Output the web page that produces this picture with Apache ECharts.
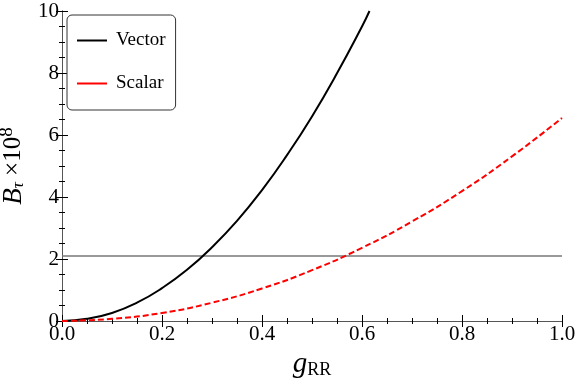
<!DOCTYPE html>
<html>
<head>
<meta charset="utf-8">
<script src="https://cdn.jsdelivr.net/npm/echarts@6/dist/echarts.min.js"></script>
</head>
<body style="margin:0">
<div id="chart" style="width:576px;height:382px"></div>
<script>
// values
var vectorX = [0, 0.05, 0.1, 0.15, 0.2, 0.25, 0.3, 0.35, 0.4, 0.45, 0.5, 0.55, 0.6, 0.615];
var vectorY = [0, 0.07, 0.26, 0.59, 1.06, 1.65, 2.38, 3.23, 4.22, 5.35, 6.6, 7.99, 9.5, 10];
var scalarX = [0, 0.1, 0.2, 0.3, 0.4, 0.5, 0.6, 0.7, 0.8, 0.9, 1.0];
var scalarY = [0, 0.07, 0.26, 0.59, 1.05, 1.64, 2.36, 3.21, 4.19, 5.31, 6.55];
var limitY = 2.1;
var xTicks = [0, 0.2, 0.4, 0.6, 0.8, 1.0];
var yTicks = [0, 2, 4, 6, 8, 10];

var font = 'Liberation Serif';
var frame = '#555';

function pairs(xs, ys) {
    var out = [];
    for (var i = 0; i < xs.length; i++) out.push([xs[i], ys[i]]);
    return out;
}

function axisBase(show) {
    return {
        type: 'value',
        axisLine: {show: true, lineStyle: {color: frame, width: 1}},
        axisTick: {show: true, inside: true, length: 6, lineStyle: {color: '#000'}},
        minorTick: {show: true, splitNumber: 4, length: 3, lineStyle: {color: '#000'}},
        splitLine: {show: false},
        axisLabel: {show: show, color: '#000', fontFamily: font, fontSize: 21}
    };
}

var xb = axisBase(true);
xb.min = xTicks[0]; xb.max = xTicks[xTicks.length - 1]; xb.interval = 0.2;
xb.axisLabel.formatter = function (v) { return v.toFixed(1); };
xb.axisLabel.margin = 3;
xb.name = '{g|g}{s|RR}';
xb.nameLocation = 'middle';
xb.nameGap = 27;
xb.nameTextStyle = {rich: {
    g: {fontFamily: font, fontStyle: 'italic', fontSize: 29, color: '#000'},
    s: {fontFamily: font, fontSize: 18, color: '#000', padding: [12, 0, 0, 0]}
}};
var xt = axisBase(false);
xt.min = 0; xt.max = 1; xt.interval = 0.2; xt.position = 'top';

var yl = axisBase(true);
yl.min = yTicks[0]; yl.max = yTicks[yTicks.length - 1]; yl.interval = 2;
yl.axisLabel.margin = 3;
yl.name = '{b|B}{t|τ}{m| ×10}{e|8}';
yl.nameLocation = 'middle';
yl.nameGap = 25;
yl.nameTextStyle = {rich: {
    b: {fontFamily: font, fontStyle: 'italic', fontSize: 27, color: '#000'},
    t: {fontFamily: font, fontStyle: 'italic', fontSize: 17, color: '#000', padding: [10, 0, 0, 0]},
    m: {fontFamily: font, fontSize: 25, color: '#000'},
    e: {fontFamily: font, fontSize: 19, color: '#000', padding: [0, 0, 14, 0]}
}};
var yr = axisBase(false);
yr.min = 0; yr.max = 10; yr.interval = 2; yr.position = 'right';

var chart = echarts.init(document.getElementById('chart'));
chart.setOption({
    animation: false,
    backgroundColor: '#fff',
    grid: {left: 62, right: 14, top: 11, bottom: 61, outerBoundsMode: 'none', containLabel: false},
    xAxis: [xb, xt],
    yAxis: [yl, yr],
    legend: {
        left: 67, top: 15,
        orient: 'vertical',
        itemWidth: 30, itemHeight: 2, itemGap: 24,
        padding: [16, 10, 17, 10],
        borderColor: '#333', borderWidth: 1, borderRadius: 5,
        backgroundColor: '#fff',
        icon: 'path://M0,0 L30,0 L30,2 L0,2 Z',
        textStyle: {fontFamily: font, fontSize: 19, color: '#000', padding: [0, 0, 0, 4]},
        data: [
            {name: 'Vector', itemStyle: {color: '#000'}},
            {name: 'Scalar', itemStyle: {color: '#f00'}}
        ]
    },
    series: [
        {
            name: 'Limit', type: 'line', symbol: 'none', silent: true,
            data: [[0, limitY], [1, limitY]],
            lineStyle: {color: '#777', width: 1.5}
        },
        {
            name: 'Vector', type: 'line', symbol: 'none', smooth: true,
            data: pairs(vectorX, vectorY),
            lineStyle: {color: '#000', width: 2},
            itemStyle: {color: '#000'}
        },
        {
            name: 'Scalar', type: 'line', symbol: 'none', smooth: true,
            data: pairs(scalarX, scalarY),
            lineStyle: {color: '#f00', width: 2, type: [6, 3]},
            itemStyle: {color: '#f00'}
        }
    ]
});
</script>
</body>
</html>
